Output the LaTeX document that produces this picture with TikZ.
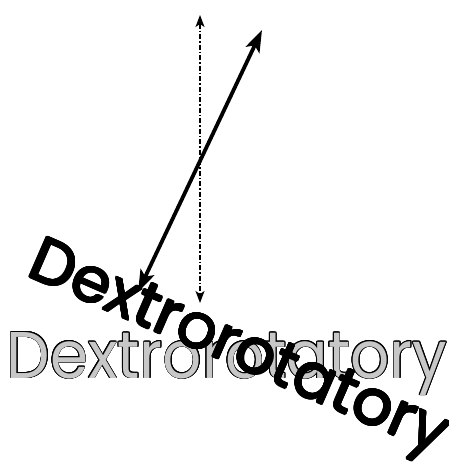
\documentclass[tikz,border=0pt]{standalone}
\usepackage{fontspec}
\setmainfont{Poppins}
\usepackage{contour}
\usetikzlibrary{arrows.meta}

\begin{document}
\begin{tikzpicture}[x=1pt, y=-1pt,
  word/.style={font=\fontsize{66}{70}\selectfont, inner sep=0pt, anchor=base},
  dashdot/.style={{Stealth[length=12pt, width=9pt, inset=3pt]}-{Stealth[length=12pt, width=9pt, inset=3pt]}, line width=1.4pt, dash pattern=on 5pt off 2pt on 1.5pt off 2pt},
  thick arrow/.style={{Stealth[length=22pt, width=15pt, inset=5pt]}-{Stealth[length=22pt, width=15pt, inset=5pt]}, line width=3.8pt}
]
\useasboundingbox (0,0) rectangle (449,468);

% axis and light ray
\coordinate (axis top) at (200,15);
\coordinate (axis bottom) at (200,303);
\coordinate (ray top) at (262,30);
\coordinate (ray bottom) at (138,292);

\draw[dashdot] (axis top) -- (axis bottom);
\draw[thick arrow] (ray top) -- (ray bottom);

% the two words
\node[word, xscale=0.93] (flat) at (227,378) {\contourlength{0.8pt}\textcolor{black!22}{\contour{black}{Dextrorotatory}}};
\node[word, xscale=0.95, yscale=0.95, rotate=-23.5] (turned) at (232,365) {\contourlength{0.9pt}\contour{black}{Dextrorotatory}};

\end{tikzpicture}
\end{document}
